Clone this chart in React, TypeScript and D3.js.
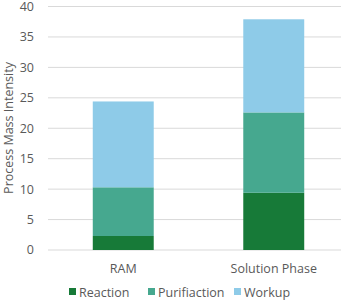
import React from 'react';
import * as d3 from 'd3';

const categories = ['RAM', 'Solution Phase'];
const seriesNames = ['Reaction', 'Purifiaction', 'Workup'];
const reaction = [2.3, 9.4];
const purification = [8.0, 13.2];
const workup = [14.1, 15.3];
const yTicks = [0, 5, 10, 15, 20, 25, 30, 35, 40];
const colors = ['#177a38', '#46a88f', '#8ecbe8'];

const width = 349;
const height = 300;
const font = "'Open Sans', sans-serif";
const textColor = '#595959';

const App = () => {
  const x = d3.scaleBand<string>()
    .domain(categories)
    .range([48, 349])
    .paddingInner(0.595)
    .paddingOuter(0.2975);
  const y = d3.scaleLinear().domain([0, 40]).range([250, 6.5]);

  const rows = categories.map((c, i) => ({
    cat: c,
    Reaction: reaction[i],
    Purifiaction: purification[i],
    Workup: workup[i],
  }));
  const stacked = d3.stack<any>().keys(seriesNames)(rows);

  const legendX = [69, 148, 234];

  return (
    <svg width={width} height={height} style={{ position: 'absolute', left: 0, top: 0 }} fontFamily={font}>
      <rect width={width} height={height} fill="#fff" />
      {yTicks.map(t => (
        <g key={t}>
          <line x1={48} x2={341} y1={y(t)} y2={y(t)} stroke="#d9d9d9" strokeWidth={1} />
          <text x={34} y={y(t)} dy="0.35em" textAnchor="end" fontSize={12.5} fill={textColor}>{t}</text>
        </g>
      ))}
      {stacked.map((s, si) => (
        <g key={s.key} fill={colors[si]}>
          {s.map((d, i) => (
            <rect key={i} x={x(categories[i])} width={x.bandwidth()}
              y={y(d[1])} height={y(d[0]) - y(d[1])} />
          ))}
        </g>
      ))}
      {categories.map(c => (
        <text key={c} x={(x(c) as number) + x.bandwidth() / 2} y={273} textAnchor="middle"
          fontSize={12.5} fill={textColor}>{c}</text>
      ))}
      <text transform={`translate(13,128) rotate(-90)`} textAnchor="middle" fontSize={12.5} fill={textColor}>
        Process Mass Intensity
      </text>
      {seriesNames.map((n, i) => (
        <g key={n}>
          <rect x={legendX[i]} y={288} width={7} height={7} fill={colors[i]} />
          <text x={legendX[i] + 10} y={296.5} fontSize={12.5} fill={textColor}>{n}</text>
        </g>
      ))}
    </svg>
  );
};

export default App;
